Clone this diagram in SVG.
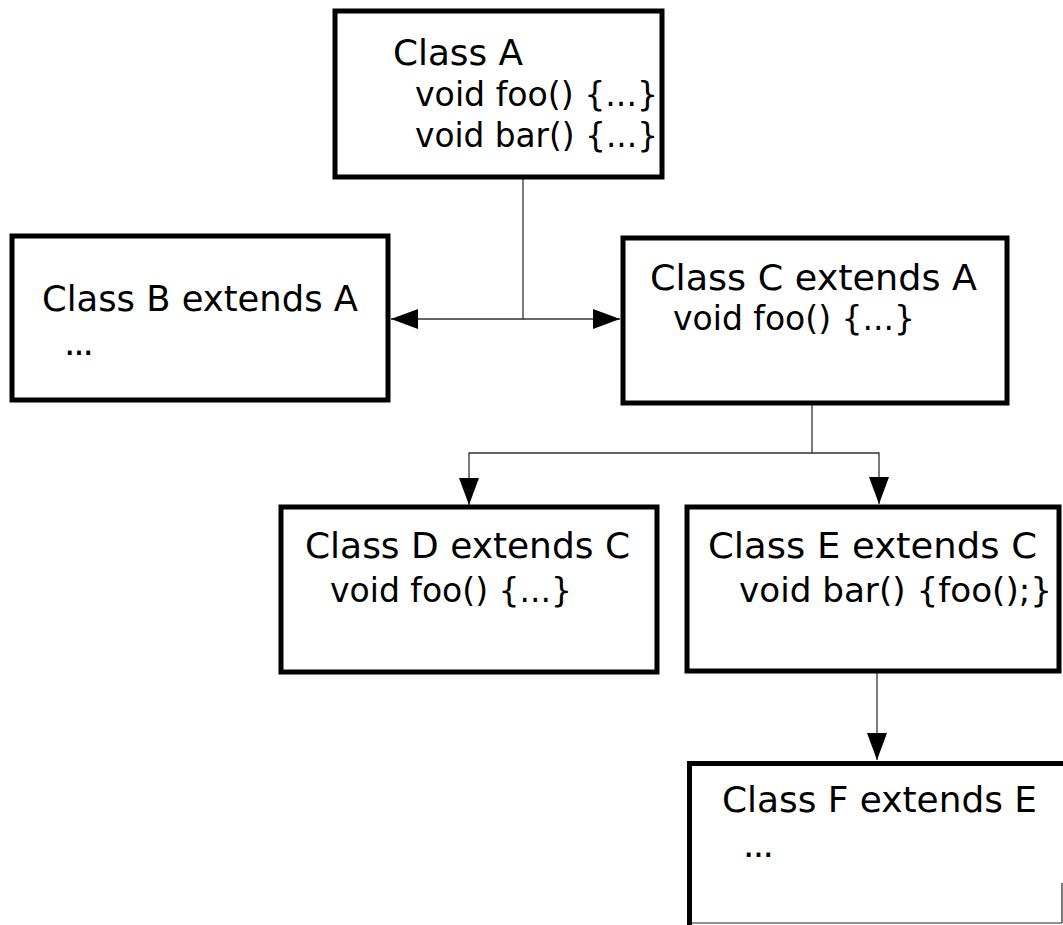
<svg xmlns="http://www.w3.org/2000/svg" width="1063" height="925" viewBox="0 0 1063 925">
  <style>
    .box { fill: #fff; stroke: #000; stroke-width: 5; }
    .thin { fill: none; stroke: #222; stroke-width: 1.2; }
    .lbl { font-family: "DejaVu Sans", "Liberation Sans", sans-serif; font-size: 36px; fill: #000; }
    .code { font-size: 34px; }
    .edge { fill: none; stroke: #333; stroke-width: 1.3; }
  </style>
  <defs>
    <marker id="arrow" markerUnits="userSpaceOnUse" markerWidth="28" markerHeight="22" refX="27" refY="10" orient="auto">
      <path d="M0,0 L27,10 L0,20 Z" fill="#000"/>
    </marker>
  </defs>
  <rect width="1063" height="925" fill="#fff"/>

  <g id="connectors">
    <path class="edge" d="M523,178 V319 H391" marker-end="url(#arrow)"/>
    <path class="edge" d="M523,319 H620" marker-end="url(#arrow)"/>
    <path class="edge" d="M812,403 V453 H469 V505" marker-end="url(#arrow)"/>
    <path class="edge" d="M812,453 H879 V504" marker-end="url(#arrow)"/>
    <path class="edge" d="M877,671 V760" marker-end="url(#arrow)"/>
  </g>

  <g id="classA">
    <rect class="box" x="335" y="11" width="327" height="166"/>
    <text class="lbl" x="393" y="65" textLength="130" lengthAdjust="spacingAndGlyphs">Class A</text>
    <text class="lbl code" x="415" y="106" textLength="243" lengthAdjust="spacingAndGlyphs">void foo() {...}</text>
    <text class="lbl code" x="415" y="147" textLength="243" lengthAdjust="spacingAndGlyphs">void bar() {...}</text>
  </g>

  <g id="classB">
    <rect class="box" x="12" y="236" width="376" height="164"/>
    <text class="lbl" x="42" y="311" textLength="316" lengthAdjust="spacingAndGlyphs">Class B extends A</text>
    <text class="lbl" x="64" y="355" textLength="30" lengthAdjust="spacing">...</text>
  </g>

  <g id="classC">
    <rect class="box" x="623" y="238" width="384" height="165"/>
    <text class="lbl" x="650" y="290" textLength="327" lengthAdjust="spacingAndGlyphs">Class C extends A</text>
    <text class="lbl code" x="673" y="330" textLength="242" lengthAdjust="spacingAndGlyphs">void foo() {...}</text>
  </g>

  <g id="classD">
    <rect class="box" x="281" y="507" width="376" height="165"/>
    <text class="lbl" x="305" y="558" textLength="325" lengthAdjust="spacingAndGlyphs">Class D extends C</text>
    <text class="lbl code" x="330" y="602" textLength="242" lengthAdjust="spacingAndGlyphs">void foo() {...}</text>
  </g>

  <g id="classE">
    <rect class="box" x="687" y="507" width="372" height="164"/>
    <text class="lbl" x="708" y="558" textLength="329" lengthAdjust="spacingAndGlyphs">Class E extends C</text>
    <text class="lbl code" x="739" y="602" textLength="313" lengthAdjust="spacingAndGlyphs">void bar() {foo();}</text>
  </g>

  <g id="classF">
    <rect fill="#fff" x="687" y="763" width="375" height="160"/>
    <path class="thin" d="M689,923 H1062 M1062,883 V923"/>
    <path fill="none" stroke="#000" stroke-width="5" d="M689.5,925 V763.5 H1063"/>
    <text class="lbl" x="722" y="812" textLength="315" lengthAdjust="spacingAndGlyphs">Class F extends E</text>
    <text class="lbl" x="743" y="857" textLength="31" lengthAdjust="spacing">...</text>
  </g>
</svg>
